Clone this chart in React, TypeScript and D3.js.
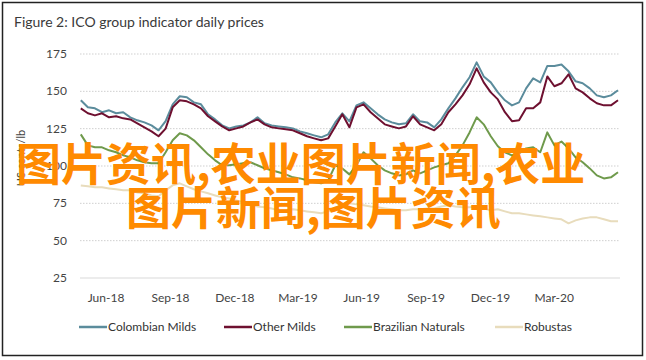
import React from 'react'
import * as d3 from 'd3'

const START = new Date(2018, 4, 26)
const END = new Date(2020, 6, 1)

const colombianMilds = [
  144, 139.3, 138.6, 136, 137.3, 135.3, 136, 132.6, 130.6, 129.2, 127.2, 123.9, 130, 141.3, 146.7, 146,
  142.6, 141.3, 134.6, 131.2, 127.2, 125.2, 126.5, 127.2, 129.2, 132.6, 128.6, 127.2, 126.5, 125.9, 125.2,
  123.2, 121.9, 120.5, 119.2, 121.2, 129.2, 135.3, 129.9, 140.6, 142.6, 138.6, 134.6, 131.2, 129.2, 127.9,
  128.6, 134.6, 129.9, 129.2, 125.9, 131.2, 138.6, 145.3, 152.7, 159.4, 169.4, 160, 156, 149.3, 144, 140.6,
  142.6, 152, 158.7, 156, 167, 167, 168, 163.4, 156.7, 155.4, 152, 147.3, 146, 147.3, 150.7,
]
const otherMilds = [
  138.6, 135.3, 133.9, 135.3, 132.6, 133.3, 131.9, 131.2, 128.6, 125.9, 123.2, 119.9, 125, 139.3, 144, 143.3,
  141.3, 138.6, 133.3, 129.9, 126.5, 123.9, 125.2, 126.5, 129.2, 131.2, 127.9, 125.9, 125.2, 124.6, 123.9,
  121.9, 119.9, 118.5, 117.2, 118.5, 126.5, 134.6, 125.9, 139.3, 141.3, 136, 131.9, 127.9, 126.5, 125.2,
  126.5, 133.3, 127.9, 125.9, 123.9, 127.9, 136, 141.3, 147.3, 154.7, 165.4, 156, 149.3, 144.6, 136, 130,
  130.6, 138.6, 138.6, 142.6, 160, 153.4, 155.4, 161.4, 152, 149.3, 145.3, 142, 140.6, 140.6, 144,
]
const brazilianNaturals = [
  121.2, 113.8, 112.5, 112.5, 110.5, 109.2, 107.1, 105.8, 103.8, 102.5, 101.8, 101.8, 109.2, 117.2, 121.9,
  120.5, 117.2, 112.5, 107.8, 103.8, 100.5, 100.5, 101.1, 101.8, 102.5, 100.5, 98.4, 97.1, 95.8, 94.4, 92.4,
  91.7, 90.4, 89.1, 88.4, 90.4, 100.5, 98.4, 94.4, 100.5, 109.2, 105.1, 100.5, 97.1, 95.1, 93.7, 94.4, 97.1,
  95.1, 97.1, 99.1, 100.5, 101.8, 107.1, 113.8, 122.5, 132.6, 127.9, 119.9, 113.2, 109.2, 107.1, 108.5,
  111.8, 112.5, 109.2, 122.5, 113.8, 116.4, 111.8, 105.8, 102.5, 98.4, 93.7, 91.7, 92.4, 95.8,
]
const robustas = [
  87, 86.4, 85.7, 85.7, 85, 84.4, 83.7, 83.7, 82.3, 81.7, 80.3, 79.7, 83.7, 87, 88.4, 86.4, 84.4, 83, 81.7,
  80.3, 79, 78.3, 77, 75.7, 74.3, 72.9, 72.3, 71.6, 70.3, 70.3, 71, 70.3, 69.6, 69, 68.3, 69.6, 72.3, 73.7,
  75, 74.3, 73.7, 72.9, 72.3, 71.6, 71, 70.3, 70.3, 71, 71, 71.6, 71.6, 72.9, 73.7, 72.9, 72.3, 72.3, 72.9,
  71.6, 70.3, 71, 69.6, 68.3, 68.3, 67.6, 66.9, 66.3, 65.6, 64.9, 64.3, 61.6, 63.6, 64.9, 65.6, 65.6, 64.3,
  63, 63,
]

const seriesNames = ['Colombian Milds', 'Other Milds', 'Brazilian Naturals', 'Robustas']
const seriesColors = ['#5b8c9c', '#6e1030', '#6f9a4c', '#e8dcbc']
const seriesValues = [colombianMilds, otherMilds, brazilianNaturals, robustas]

const yTicks = [25, 50, 75, 100, 125, 150, 175]
const xTickLabels = ['Jun-18', 'Sep-18', 'Dec-18', 'Mar-19', 'Jun-19', 'Sep-19', 'Dec-19', 'Mar-20', 'Jun-20']

const FONT = 'Lato, "Open Sans", sans-serif'

export default function App() {
  const width = 646
  const height = 360

  const n = colombianMilds.length
  const step = (END.getTime() - START.getTime()) / (n - 1)
  const dates = d3.range(n).map((i) => new Date(START.getTime() + i * step))

  const x = d3.scaleTime().domain([new Date(2018, 5, 1), new Date(2020, 5, 1)]).range([85, 597])
  const y = d3.scaleLinear().domain([25, 175]).range([278, 54])

  const xTicks = d3.timeMonth.every(3)!.range(new Date(2018, 5, 1), new Date(2020, 5, 2))

  const line = d3
    .line<number>()
    .x((_, i) => x(dates[i]))
    .y((d) => y(d))

  // drawing order: Robustas at the back, Other Milds on top
  const order = [3, 2, 0, 1]

  const legendX = [79, 224, 344, 495]

  return (
    <svg width={width} height={height} style={{ position: 'absolute', left: 0, top: 0, background: '#fff' }}>
      <rect x={2.5} y={2.5} width={640} height={353} fill="#fff" stroke="#222" strokeWidth={1.5} />
      <text x={14} y={27} fontFamily={FONT} fontSize={14} fill="#3a3a3a">
        Figure 2: ICO group indicator daily prices
      </text>

      {/* grid */}
      {yTicks.map((t) => (
        <g key={t}>
          <line
            x1={80}
            x2={620}
            y1={y(t)}
            y2={y(t)}
            stroke={t === 25 ? '#d9d9d9' : '#cfcfcf'}
            strokeWidth={1}
            strokeDasharray={t === 25 ? undefined : '1.5,1.5'}
          />
          <text x={67} y={y(t) + 4} textAnchor="end" fontFamily={FONT} fontSize={12} fill="#444">
            {t}
          </text>
        </g>
      ))}

      <text
        transform={`translate(25,158) rotate(-90)`}
        textAnchor="middle"
        fontFamily={FONT}
        fontSize={11}
        fill="#444"
      >
        US cents/lb
      </text>

      {xTicks.map((t, i) => (
        <text key={i} x={x(t)} y={y(25) + 24} textAnchor="middle" fontFamily={FONT} fontSize={12} fill="#444">
          {xTickLabels[i]}
        </text>
      ))}

      {order.map((k) => (
        <path
          key={k}
          d={line(seriesValues[k]) || ''}
          fill="none"
          stroke={seriesColors[k]}
          strokeWidth={2}
          strokeLinejoin="round"
        />
      ))}

      {seriesNames.map((name, k) => (
        <g key={name} transform={`translate(${legendX[k]},327)`}>
          <line x1={0} x2={28} y1={0} y2={0} stroke={seriesColors[k]} strokeWidth={2.5} />
          <text x={29} y={4} fontFamily={FONT} fontSize={12} fill="#333">
            {name}
          </text>
        </g>
      ))}

      {/* watermark overlay */}
      <g fontFamily='"Noto Sans CJK SC", sans-serif' fontWeight={700} fontSize={45} fill="#ff8a00">
        <text x={16} y={181}>图片资讯,农业图片新闻,农业</text>
        <text x={126} y={225}>图片新闻,图片资讯</text>
      </g>
    </svg>
  )
}
